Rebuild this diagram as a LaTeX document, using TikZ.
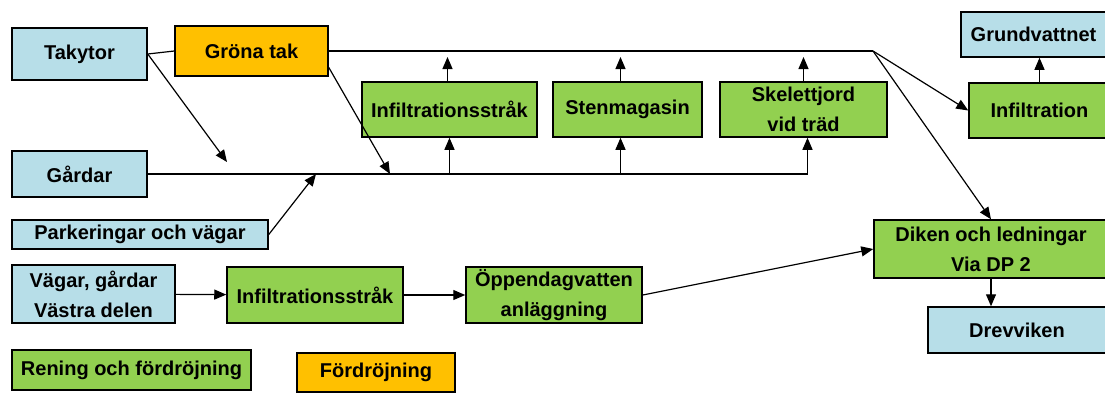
\documentclass[tikz,border=0pt]{standalone}
\usepackage{fontspec}
\setmainfont{Liberation Sans}
\usetikzlibrary{arrows.meta}
\definecolor{boxBlue}{RGB}{183,222,232}
\definecolor{boxGreen}{RGB}{146,208,80}
\definecolor{boxOrange}{RGB}{255,192,0}

\begin{document}
\begin{tikzpicture}[x=1pt, y=-1pt,
    box/.style={draw=black, line width=1.5pt, inner sep=0pt, align=center,
        font=\fontsize{20}{30}\selectfont\bfseries},
    blueBox/.style={box, fill=boxBlue},
    greenBox/.style={box, fill=boxGreen},
    orangeBox/.style={box, fill=boxOrange},
    link/.style={draw=black, line width=1.2pt},
    flow/.style={link, -{Triangle[length=12pt,width=10pt]}}]
            % dagvattnets vägar, rutor på pixelkoordinater
            \useasboundingbox (0,0) rectangle (1105,392);
            \clip (0,0) rectangle (1105,392);

            \coordinate (TopEnd) at (873,51);
            \coordinate (TopTip) at (0,57);
            \coordinate (TakTip) at (227,162);
            \coordinate (GronaTip) at (390,174);
            \coordinate (ParkTip) at (316,174);

            \node[blueBox, minimum width=135pt, minimum height=52pt] (Takytor) at (79.5,54) {Takytor};
            \node[orangeBox, minimum width=153pt, minimum height=50pt] (GronaTak) at (251.5,51) {Gröna tak};
            \node[blueBox, minimum width=135pt, minimum height=46pt] (Gardar) at (79.5,174) {Gårdar};
            \node[blueBox, minimum width=256pt, minimum height=29pt] (Parkering) at (140,234.5) {Parkeringar och vägar};
            \node[greenBox, minimum width=175pt, minimum height=55pt] (InfilStrak1) at (449.5,109.5) {Infiltrationsstråk};
            \node[greenBox, minimum width=149pt, minimum height=55pt] (Stenmag) at (627.5,109.5) {Stenmagasin};
            \node[greenBox, minimum width=167pt, minimum height=55pt] (Skelett) at (803.5,109.5) {Skelettjord\\vid träd};
            \node[blueBox, minimum width=145pt, minimum height=45pt] (Grundvatten) at (1033.5,34.5) {Grundvattnet};
            \node[greenBox, minimum width=141pt, minimum height=55pt] (Infiltration) at (1039.5,110.5) {Infiltration};
            \node[greenBox, minimum width=234pt, minimum height=58pt] (Diken) at (991,249) {Diken och ledningar\\Via DP 2};
            \node[blueBox, minimum width=178pt, minimum height=46pt] (Drevviken) at (1017,330) {Drevviken};
            \node[blueBox, minimum width=163pt, minimum height=58pt] (VagarVast) at (93.5,294) {Vägar, gårdar\\Västra delen};
            \node[greenBox, minimum width=176pt, minimum height=56pt] (InfilStrak2) at (315,295) {Infiltrationsstråk};
            \node[greenBox, minimum width=176pt, minimum height=56pt] (OppenDag) at (554,295) {Öppendagvatten\\anläggning};
            \node[greenBox, minimum width=239pt, minimum height=40pt] (RenLegend) at (131.5,370) {Rening och fördröjning};
            \node[orangeBox, minimum width=158pt, minimum height=39pt] (FordLegend) at (376,372.5) {Fördröjning};

            \draw[link] (Takytor.east) -- (GronaTak.west);
            \draw[link] (GronaTak.east) -- (TopEnd);
            \draw[flow] (TopEnd) -- (Infiltration.west);
            \draw[flow] (TopEnd) -- (Diken.north);
            \draw[flow] (Takytor.east) -- (TakTip);
            \draw[flow] (GronaTak.-12) -- (GronaTip);
            \draw[flow] (Parkering.east) -- (ParkTip);

            \draw[flow] (Gardar.east) -| ([xshift=4pt]Skelett.south);
            \draw[flow] (InfilStrak1.south |- Gardar.east) -- (InfilStrak1.south);
            \draw[flow] ([xshift=-7pt]Stenmag.south |- Gardar.east) -- ([xshift=-7pt]Stenmag.south);

            \draw[flow] ([xshift=-2pt]InfilStrak1.north) -- ([xshift=-2pt]InfilStrak1.north |- TopTip);
            \draw[flow] ([xshift=-7pt]Stenmag.north) -- ([xshift=-7pt]Stenmag.north |- TopTip);
            \draw[flow] (Skelett.north) -- (Skelett.north |- TopTip);
            \draw[flow] (Infiltration.north) -- (Infiltration.north |- Grundvatten.south);

            \draw[flow] (VagarVast) -- (InfilStrak2);
            \draw[flow] (InfilStrak2) -- (OppenDag);
            \draw[flow] (OppenDag.east) -- (Diken.west);
            \draw[flow] (Diken.south) -- (Diken.south |- Drevviken.north);
\end{tikzpicture}
\end{document}
